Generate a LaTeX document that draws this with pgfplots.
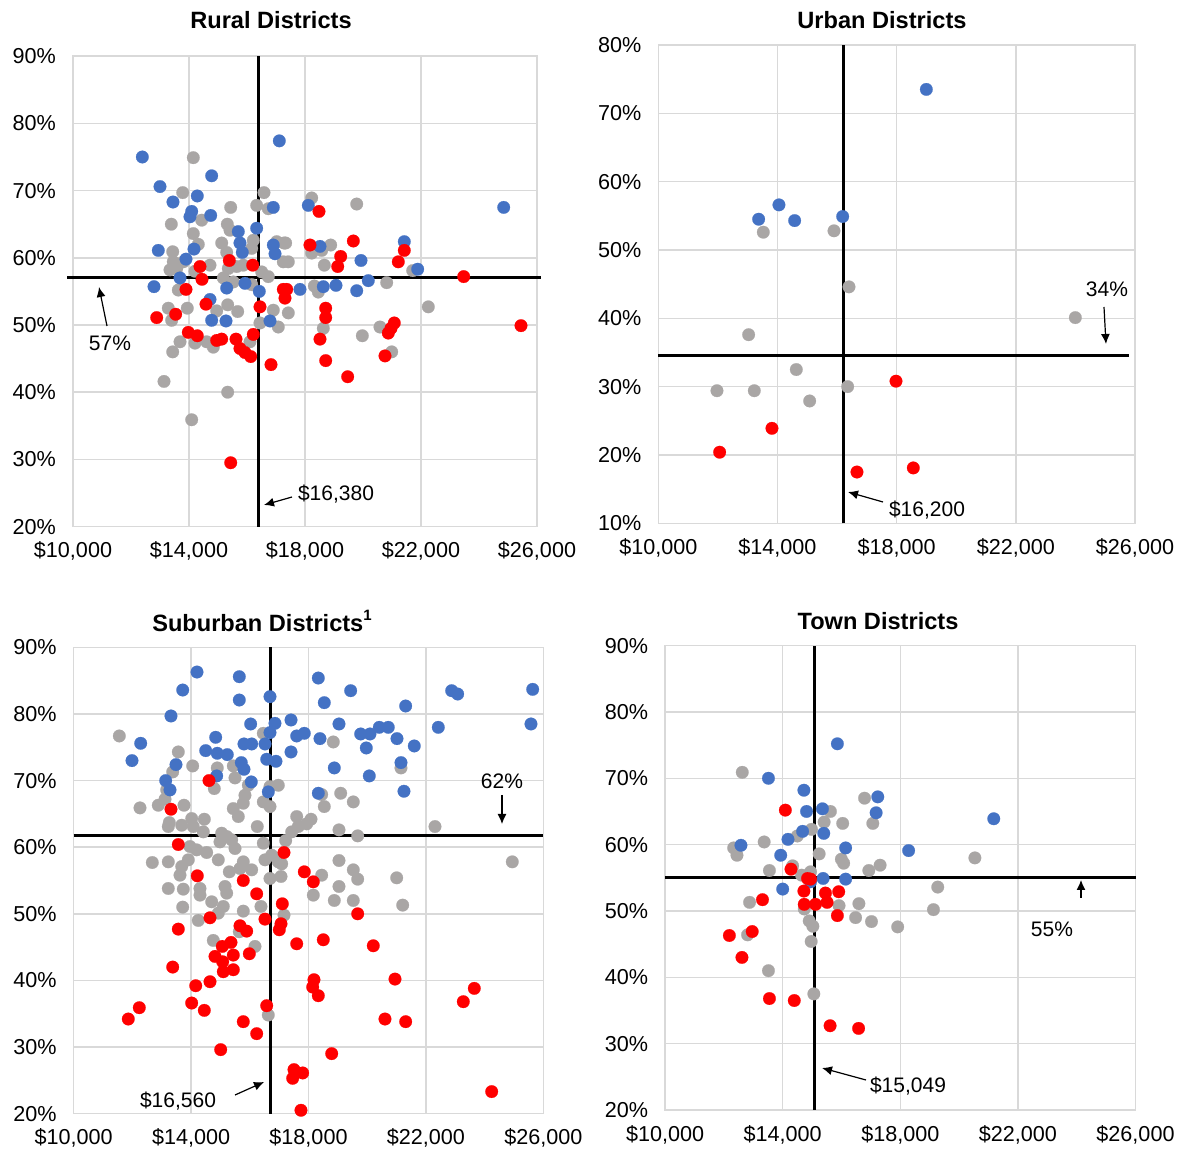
\documentclass[border=0pt]{standalone}
\usepackage{fontspec}
\setmainfont{Liberation Sans}
\usepackage{pgfplots}
\pgfplotsset{compat=1.18}
\usetikzlibrary{arrows.meta}
\definecolor{cblue}{HTML}{4472C4}
\definecolor{cgray}{HTML}{A9A6A5}
\definecolor{cred}{HTML}{FF0000}
\definecolor{cgrid}{HTML}{D9D9D9}
\pgfplotsset{
  quad/.style={
    scale only axis, anchor=north west, clip=false,
    xmin=10000, xmax=26000,
    xtick={10000,14000,18000,22000,26000},
    xticklabels={{\$10,000},{\$14,000},{\$18,000},{\$22,000},{\$26,000}},
    grid=major, major grid style={cgrid, line width=0.75pt},
    axis line style={cgrid, line width=0.75pt},
    major tick length=0pt,
    tick label style={font=\fontsize{10.8}{12}\selectfont, black},
    yticklabel style={xshift=-5pt},
    xticklabel style={yshift=-4pt},
    scaled ticks=false,
  },
  pts/.style={only marks, mark=*, mark size=3.15pt, color=#1, mark options={fill=#1, draw=#1, line width=0.1pt}},
  thr/.style={black, line width=1.5pt, no marks},
}
\tikzset{ann/.style={font=\fontsize{10.5}{12}\selectfont}, arr/.style={-{Latex[length=5pt,width=4.5pt]}, line width=0.6pt}}
\begin{document}
\begin{tikzpicture}
\path[use as bounding box] (0,0) rectangle (595pt,-577pt);
% ---------------- Rural
\begin{axis}[quad, at={(36.5pt,-28.1pt)}, width=232pt, height=235.2pt,
  ymin=20, ymax=90, ytick={20,30,40,50,60,70,80,90},
  yticklabels={20\%,30\%,40\%,50\%,60\%,70\%,80\%,90\%}]
\addplot[pts=cgray] coordinates {(14148,74.9) (13783,69.7) (16586,69.7) (15438,67.5) (16334,67.8) (16734,67.3) (13390,65.0) (14438,65.6) (15321,65.0) (15414,64.1) (14148,63.6) (14321,62.0) (13438,60.9) (15128,62.2) (15300,60.8) (16217,62.6) (16162,61.4) (17024,62.4) (17276,62.2) (13458,59.4) (13345,58.2) (13576,58.4) (13803,59.4) (14724,58.9) (14207,58.0) (15355,58.4) (15645,58.7) (15872,58.9) (16507,57.9) (16734,57.2) (15183,57.0) (15528,56.4) (16162,56.0) (13631,55.2) (17252,59.4) (18231,68.9) (19783,68.0) (17334,62.2) (17424,59.4) (18231,60.7) (18576,61.1) (18886,61.9) (18666,58.9) (21714,58.1) (18321,55.8) (18459,54.9) (20817,56.3) (13286,52.5) (13403,50.7) (13941,52.5) (14955,52.1) (15334,53.0) (15679,52.0) (13690,47.5) (13438,46.0) (14207,47.3) (14610,47.5) (14838,46.7) (16103,47.5) (16448,50.3) (16907,52.2) (17079,49.7) (13138,41.6) (15334,40.0) (14093,35.9) (17424,51.8) (18631,49.5) (19976,48.4) (20586,49.7) (20990,46.0) (22252,52.7)};
\addplot[pts=cblue] coordinates {(12390,75.0) (13000,70.6) (14782,72.2) (13448,68.3) (14286,69.2) (14093,66.9) (14034,66.1) (14748,66.3) (12941,61.1) (13896,59.8) (14172,61.3) (15700,63.9) (15758,62.2) (15838,60.8) (16334,64.4) (16907,67.5) (16907,61.9) (12793,55.7) (13690,57.0) (15300,55.5) (15931,56.2) (16424,55.0) (17114,77.4) (18114,67.8) (18517,61.7) (16966,60.6) (19931,59.6) (21424,62.4) (21886,58.3) (24852,67.5) (17828,55.3) (18631,55.7) (19069,55.9) (19783,55.1) (20183,56.6) (14782,50.7) (15276,50.6) (16793,50.6) (14724,53.8)};
\addplot[pts=cred] coordinates {(15390,59.6) (16197,58.9) (14379,58.7) (14448,56.8) (13896,55.3) (17252,55.3) (14586,53.1) (18483,66.9) (18172,61.9) (19666,62.5) (19231,60.2) (19128,58.7) (21424,61.1) (21217,59.4) (23472,57.2) (17369,55.3) (17310,54.0) (12886,51.1) (13541,51.6) (16448,52.7) (13976,48.9) (14286,48.4) (14955,47.7) (15128,47.9) (15621,47.9) (15758,46.5) (15931,45.9) (16128,45.3) (16217,48.6) (16828,44.1) (15438,29.5) (18714,52.5) (18714,51.1) (18517,47.9) (18714,44.7) (19472,42.3) (21079,50.3) (20966,49.5) (20872,48.8) (20759,45.4) (25448,49.9)};
\addplot[thr] coordinates {(16380,20) (16380,90)};
\addplot[thr] coordinates {(9800,57) (26150,57)};
\end{axis}
% ---------------- Urban
\begin{axis}[quad, at={(329.15pt,-22.5pt)}, width=238.35pt, height=239.15pt,
  ymin=10, ymax=80, ytick={10,20,30,40,50,60,70,80},
  yticklabels={10\%,20\%,30\%,40\%,50\%,60\%,70\%,80\%}]
\addplot[pts=cgray] coordinates {(13524,52.6) (15897,52.8) (16400,44.6) (23997,40.1) (13032,37.6) (14632,32.5) (11969,29.4) (13222,29.4) (15080,27.9) (16355,30.0)};
\addplot[pts=cblue] coordinates {(18996,73.5) (14050,56.6) (13368,54.5) (14576,54.3) (16188,54.9)};
\addplot[pts=cred] coordinates {(17978,30.8) (13815,23.9) (12059,20.4) (16668,17.5) (18559,18.1)};
\addplot[thr] coordinates {(16200,10) (16200,80)};
\addplot[thr] coordinates {(10000,34.6) (25800,34.6)};
\end{axis}
% ---------------- Suburban
\begin{axis}[quad, at={(36.85pt,-323.7pt)}, width=234.8pt, height=233.1pt,
  ymin=20, ymax=90, ytick={20,30,40,50,60,70,80,90},
  yticklabels={20\%,30\%,40\%,50\%,60\%,70\%,80\%,90\%}]
\addplot[pts=cgray] coordinates {(11554,76.7) (13564,74.3) (14054,72.2) (13373,71.3) (14892,71.9) (15438,72.2) (15496,70.4) (16460,77.1) (14790,68.8) (15949,69.3) (15836,67.8) (13169,68.6) (13111,67.2) (12259,65.9) (12882,66.3) (13758,66.3) (15438,65.8) (15778,66.6) (16460,66.8) (16688,69.1) (18845,75.8) (21151,71.9) (18449,67.9) (19097,68.1) (19526,66.8) (16971,69.3) (18538,66.1) (16688,66.1) (13257,63.7) (13223,63.1) (13680,63.3) (14020,64.3) (14075,63.1) (14450,64.2) (14416,62.3) (15608,64.6) (16255,63.1) (15042,62.1) (15213,61.6) (15383,61.1) (15496,59.8) (14984,60.8) (14531,59.2) (14191,59.6) (13962,60.1) (13904,58.1) (13680,57.1) (13622,55.8) (13223,57.8) (12678,57.7) (14926,58.1) (15301,56.3) (15666,56.8) (15778,57.8) (16064,56.6) (16518,58.1) (16460,60.6) (16688,55.3) (13223,53.8) (13734,53.7) (14303,53.8) (14303,52.8) (15155,54.1) (15213,53.1) (14702,51.8) (13714,51.0) (15097,51.1) (14926,50.1) (15778,50.4) (16381,51.1) (14245,49.0) (15642,47.3) (14756,46.0) (16177,45.1) (17598,64.6) (18085,64.2) (17938,63.5) (17652,63.1) (17427,62.3) (19039,62.6) (19676,61.7) (22310,63.1) (17223,61.0) (24943,57.8) (16746,58.8) (16971,57.8) (17087,57.5) (17063,55.6) (19039,58.0) (18449,55.8) (19526,56.6) (19676,55.2) (21005,55.4) (19039,54.1) (18163,52.8) (18879,52.0) (19526,52.0) (21209,51.3) (17165,49.8) (16630,34.8)};
\addplot[pts=cblue] coordinates {(14201,86.3) (13714,83.6) (15642,85.6) (15642,82.1) (16688,82.6) (13315,79.7) (12283,75.6) (11986,73.0) (14838,76.5) (14497,74.5) (14892,74.1) (15233,73.9) (16030,78.5) (15802,75.5) (16064,75.5) (16518,75.5) (16576,73.2) (15710,72.7) (15802,71.7) (13485,72.4) (13134,70.0) (14872,70.7) (16051,69.8) (16688,77.2) (16630,68.3) (13281,68.6) (18334,85.4) (19437,83.5) (18538,81.7) (21311,81.2) (22878,83.5) (23083,83.0) (25638,83.7) (16858,78.6) (17404,79.1) (17598,76.7) (17857,77.1) (18391,76.3) (19039,78.5) (19778,77.0) (20095,77.0) (20412,78.0) (20718,78.0) (21015,76.3) (21604,75.2) (19969,74.9) (22422,78.0) (25580,78.5) (17404,74.3) (16892,72.9) (18879,71.9) (20071,70.7) (21151,72.7) (21253,68.4) (18334,68.1)};
\addplot[pts=cred] coordinates {(14610,70.0) (13315,65.7) (13564,60.4) (14211,55.7) (15778,55.0) (16235,53.0) (14644,49.4) (16518,49.2) (13564,47.7) (15666,48.2) (15894,47.4) (15359,45.7) (15063,45.1) (15438,43.8) (15983,44.0) (14814,43.6) (15076,42.8) (15097,41.3) (15438,41.6) (13373,42.0) (14157,39.2) (14644,39.8) (14020,36.6) (14450,35.5) (12235,35.9) (11860,34.2) (15778,33.8) (16235,32.0) (15008,29.6) (16576,36.2) (17165,59.2) (17857,56.3) (18163,54.8) (17107,51.5) (19676,50.0) (17063,48.5) (17005,47.6) (17598,45.5) (18504,46.1) (20207,45.2) (18187,40.1) (18143,39.0) (18334,37.7) (20947,40.2) (23649,38.8) (23274,36.8) (20606,34.2) (21311,33.8) (18790,29.0) (17506,26.6) (17802,26.1) (17461,25.3) (17744,20.5) (24241,23.3)};
\addplot[thr] coordinates {(16710,20) (16710,90)};
\addplot[thr] coordinates {(10000,61.7) (26000,61.7)};
\end{axis}
% ---------------- Town
\begin{axis}[quad, at={(332.55pt,-322.8pt)}, width=235.2pt, height=232.2pt,
  ymin=20, ymax=90, ytick={20,30,40,50,60,70,80,90},
  yticklabels={20\%,30\%,40\%,50\%,60\%,70\%,80\%,90\%}]
\addplot[thr] coordinates {(15093,20) (15093,90)};
\addplot[thr] coordinates {(10000,55) (26000,55)};
\addplot[pts=cgray] coordinates {(12625,70.9) (16784,67.0) (15623,65.0) (15409,63.4) (16040,63.2) (17065,63.2) (14980,62.3) (14496,61.3) (13369,60.4) (12332,59.5) (12445,58.4) (15240,58.6) (15995,57.8) (16074,57.2) (17313,56.9) (16930,56.1) (20537,58.0) (13549,56.1) (14338,56.8) (14642,55.4) (14947,55.9) (19274,53.6) (12873,51.3) (15916,50.8) (16592,51.1) (14733,50.3) (19128,50.2) (16479,49.0) (17020,48.4) (17911,47.6) (14902,48.5) (15026,47.7) (12805,46.4) (14969,45.4) (13515,41.0) (15059,37.5)};
\addplot[pts=cblue] coordinates {(15860,75.2) (13515,70.0) (14721,68.2) (17234,67.2) (17178,64.8) (14811,65.0) (15352,65.4) (21179,63.9) (15397,61.7) (14676,62.0) (14180,60.8) (12580,59.9) (13932,58.4) (16141,59.5) (18283,59.1) (15375,54.9) (16141,54.8) (14000,53.3) (14947,54.4)};
\addplot[pts=cred] coordinates {(14090,65.2) (14282,56.3) (14845,54.9) (14947,54.8) (14721,53.0) (15454,52.7) (15905,52.9) (13313,51.7) (14733,51.0) (15116,51.0) (15510,51.3) (15860,49.3) (12963,46.9) (12186,46.3) (12614,43.0) (13549,36.8) (14394,36.5) (15612,32.7) (16581,32.3)};
\end{axis}
% ---------------- titles
\node[font=\bfseries\fontsize{11.8}{13}\selectfont] at (135.5pt,-10pt) {Rural Districts};
\node[font=\bfseries\fontsize{11.8}{13}\selectfont] at (441pt,-10pt) {Urban Districts};
\node[font=\bfseries\fontsize{11.8}{13}\selectfont] at (131pt,-310.5pt) {Suburban Districts\raisebox{0.45em}{\fontsize{7.5}{8}\selectfont 1}};
\node[font=\bfseries\fontsize{11.8}{13}\selectfont] at (439pt,-310.5pt) {Town Districts};
% ---------------- annotations
\node[ann] at (55pt,-171.5pt) {57\%};
\draw[arr] (53.5pt,-163pt) -- (49.5pt,-143.5pt);
\node[ann] at (168pt,-247pt) {\$16,380};
\draw[arr] (146pt,-248.5pt) -- (132pt,-252.5pt);
\node[ann] at (553.5pt,-144.5pt) {34\%};
\draw[arr] (552pt,-153.5pt) -- (553pt,-172pt);
\node[ann] at (463.5pt,-255pt) {\$16,200};
\draw[arr] (441.5pt,-251pt) -- (424pt,-246pt);
\node[ann] at (251pt,-390.5pt) {62\%};
\draw[arr] (251pt,-397.5pt) -- (251pt,-412pt);
\node[ann] at (89pt,-550.5pt) {\$16,560};
\draw[arr] (117.5pt,-547.5pt) -- (132pt,-541pt);
\node[ann] at (526pt,-464.5pt) {55\%};
\draw[arr] (540.5pt,-449pt) -- (540.5pt,-440pt);
\node[ann] at (454pt,-543pt) {\$15,049};
\draw[arr] (433pt,-540pt) -- (411pt,-534pt);
\end{tikzpicture}
\end{document}
